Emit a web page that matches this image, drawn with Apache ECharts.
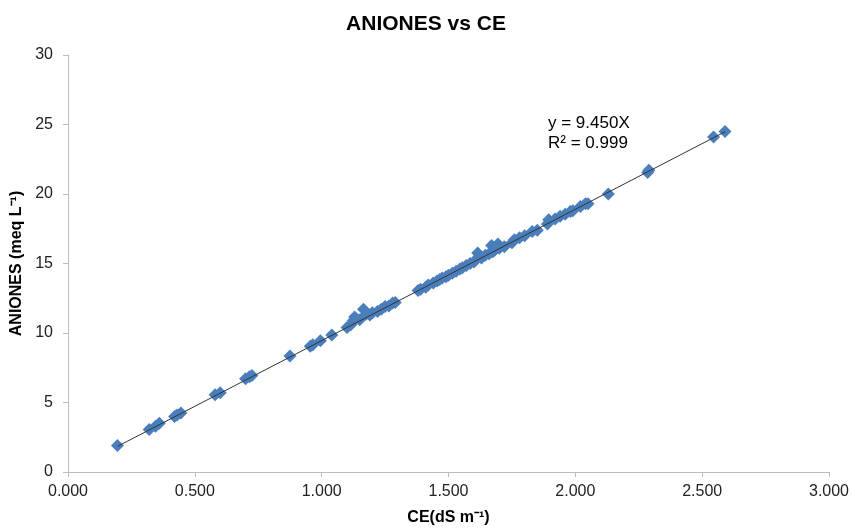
<!DOCTYPE html>
<html>
<head>
    <meta charset="utf-8">
    <title>ANIONES vs CE</title>
    <script src="https://cdn.jsdelivr.net/npm/echarts@6/dist/echarts.min.js"></script>
</head>
<body style="margin:0;">
    <div id="chart" style="width:852px;height:529px;"></div>

    <script type="text/javascript">
        // CE (dS m-1) readings
        var ce = [0.195, 0.32, 0.345, 0.36, 0.42, 0.43, 0.445, 0.58, 0.60, 0.70,
                  0.715, 0.725, 0.875, 0.955, 0.965, 0.995, 1.04, 1.10, 1.115, 1.125,
                  1.13, 1.15, 1.165, 1.175, 1.19, 1.20, 1.22, 1.235, 1.25, 1.265,
                  1.28, 1.29, 1.38, 1.39, 1.41, 1.42, 1.44, 1.455, 1.465, 1.475,
                  1.49, 1.50, 1.515, 1.53, 1.545, 1.555, 1.57, 1.585, 1.60, 1.61,
                  1.615, 1.63, 1.645, 1.66, 1.67, 1.675, 1.685, 1.695, 1.70, 1.72,
                  1.75, 1.76, 1.78, 1.80, 1.83, 1.85, 1.89, 1.895, 1.92, 1.94,
                  1.96, 1.98, 1.99, 2.02, 2.04, 2.05, 2.13, 2.285, 2.29, 2.545, 2.59];
        // aniones (meq L-1)
        var aniones = [1.9, 3.05, 3.3, 3.5, 4.0, 4.1, 4.25, 5.55, 5.7, 6.7,
                       6.85, 6.95, 8.35, 9.05, 9.15, 9.45, 9.85, 10.4, 10.6, 10.9,
                       11.15, 10.95, 11.7, 11.35, 11.3, 11.45, 11.55, 11.7, 11.9, 11.95,
                       12.15, 12.2, 13.05, 13.15, 13.3, 13.45, 13.6, 13.75, 13.85, 13.95,
                       14.05, 14.15, 14.3, 14.45, 14.6, 14.7, 14.85, 15.0, 15.1, 15.3,
                       15.75, 15.4, 15.6, 15.7, 16.3, 15.85, 16.0, 16.4, 16.1, 16.2,
                       16.5, 16.7, 16.85, 17.0, 17.3, 17.4, 17.85, 18.15, 18.2, 18.4,
                       18.55, 18.75, 18.8, 19.1, 19.3, 19.3, 20.0, 21.55, 21.7, 24.1, 24.5];
        // trendline through origin
        var slope = 9.450;
        var trendX = [0.195, 2.59];

        var points = [];
        for (var i = 0; i < ce.length; i++) {
            points.push([ce[i], aniones[i]]);
        }
        var trend = trendX.map(function (x) { return [x, slope * x]; });

        var axisGrey = '#bcbcbc';
        var font = '"Liberation Sans", Arial, sans-serif';

        var chart = echarts.init(document.getElementById('chart'));
        chart.setOption({
            animation: false,
            title: {
                text: 'ANIONES vs CE',
                left: 'center',
                top: 9,
                textStyle: { fontFamily: font, fontSize: 21, fontWeight: 'bold', color: '#000' }
            },
            grid: { left: 68, right: 23, top: 55, bottom: 57, outerBoundsMode: 'none' },
            xAxis: {
                type: 'value',
                min: 0, max: 3, interval: 0.5,
                name: 'CE(dS m\u207B\u00B9)',
                nameLocation: 'middle',
                nameGap: 38,
                nameTextStyle: { fontFamily: font, fontSize: 16, fontWeight: 'bold', color: '#000' },
                axisLine: { lineStyle: { color: axisGrey } },
                axisTick: { length: 5, lineStyle: { color: axisGrey } },
                axisLabel: {
                    fontFamily: font, fontSize: 16, color: '#222', margin: 12,
                    formatter: function (v) { return v.toFixed(3); }
                },
                splitLine: { show: false }
            },
            yAxis: {
                type: 'value',
                min: 0, max: 30, interval: 5,
                name: 'ANIONES (meq L\u207B\u00B9)',
                nameLocation: 'middle',
                nameGap: 42,
                nameTextStyle: { fontFamily: font, fontSize: 16, fontWeight: 'bold', color: '#000' },
                axisLine: { show: true, lineStyle: { color: axisGrey } },
                axisTick: { show: true, length: 5, lineStyle: { color: axisGrey } },
                axisLabel: { fontFamily: font, fontSize: 16, color: '#222', margin: 15 },
                splitLine: { show: false }
            },
            graphic: [{
                type: 'text',
                left: 548, top: 113,
                style: {
                    text: 'y = 9.450X\nR\u00B2 = 0.999',
                    font: '17px ' + font,
                    fill: '#000',
                    lineHeight: 20
                }
            }],
            series: [{
                type: 'scatter',
                data: points,
                symbol: 'diamond',
                symbolSize: 13,
                itemStyle: { color: '#4a7ebb', opacity: 1 },
                z: 2
            }, {
                type: 'line',
                data: trend,
                symbol: 'none',
                lineStyle: { color: '#333', width: 1 },
                z: 3
            }]
        });
    </script>
</body>
</html>
